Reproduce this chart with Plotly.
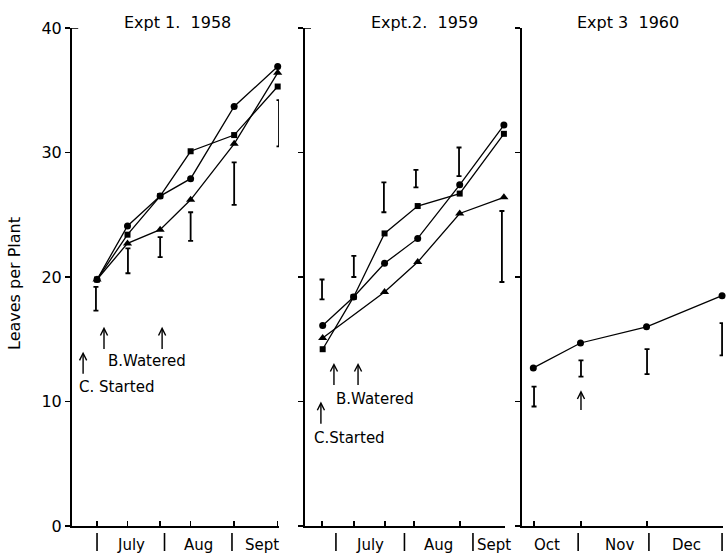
import plotly.graph_objects as go

# ---------------- data (x = days from start of month boundary reference) ----------------
# Expt 1, 1958 (day 0 = 1 July)
x1 = [0, 14, 29, 43, 63, 83]
circle1 = [19.8, 24.1, 26.5, 27.9, 33.7, 36.9]
square1 = [19.8, 23.4, 26.5, 30.1, 31.4, 35.3]
tri1 = [19.8, 22.7, 23.8, 26.2, 30.7, 36.4]
err1_x = [-0.5, 14.2, 29, 43, 63, 83.6]
err1_lo = [17.3, 20.3, 21.6, 22.9, 25.8, 30.5]
err1_hi = [19.2, 22.3, 23.2, 25.2, 29.2, 34.2]
months1 = ["July", "Aug", "Sept"]
months1_x = [15.5, 46.5, 76]
bounds1 = [0, 31, 62]

# Expt 2, 1959 (day 0 = 1 July)
x2 = [-6, 8, 22, 37, 56, 76]
circle2 = [16.1, 18.4, 21.1, 23.1, 27.4, 32.2]
square2 = [14.2, 18.4, 23.5, 25.7, 26.7, 31.5]
tri2_x = [-6, 22, 37, 56, 76]
tri2 = [15.1, 18.8, 21.2, 25.1, 26.4]
err2_x = [-6.3, 8.1, 21.7, 36.2, 55.7, 75.1]
err2_lo = [18.2, 20.0, 25.2, 27.2, 28.1, 19.6]
err2_hi = [19.8, 21.7, 27.6, 28.6, 30.4, 25.3]
ticks2 = [-6.3, 8.1, 22.2, 35.3, 56.1, 76.5]
months2 = ["July", "Aug", "Sept"]
months2_x = [15.5, 46.5, 71.5]
bounds2 = [0, 31, 62]

# Expt 3, 1960 (day 0 = 1 October)
x3 = [12, 32, 60, 92]
circle3 = [12.7, 14.7, 16.0, 18.5]
err3_x = [12.3, 32.2, 60.2, 92]
err3_lo = [9.6, 12.0, 12.2, 13.7]
err3_hi = [11.2, 13.3, 14.2, 16.3]
ticks3 = [12.3, 32.2, 60.2, 92.4]
months3 = ["Oct", "Nov", "Dec"]
months3_x = [17.8, 48.7, 77.1]
bounds3 = [31, 61, 92]

titles = ["Expt 1.  1958", "Expt.2.  1959", "Expt 3  1960"]
yticks = [0, 10, 20, 30, 40]

# arrows: (x, tip y, tail y)
c_started1 = (-6.4, 14.0, 12.1)
b_watered1 = [(3.2, 16.0, 14.1), (29.9, 16.0, 14.1)]
c_started2 = (-6.8, 10.0, 8.1)
b_watered2 = [(-0.9, 13.1, 11.2), (10.0, 13.1, 11.2)]
arrow3 = (32.2, 10.9, 9.2)

# ---------------- layout geometry ----------------
W, H = 726, 553
ML, MR, MT, MB = 72, 3, 28, 27
PW = W - ML - MR
PH = H - MT - MB


def dom(a, b):
    return [(a - ML) / PW, (b - ML) / PW]


def py(p):  # pixel y -> paper y
    return (H - MB - p) / PH


FONT = "DejaVu Sans"
LINE_W = 1.3

fig = go.Figure()


def add_series(x, y, symbol, size, xa, ya):
    fig.add_trace(go.Scatter(
        x=x, y=y, mode="lines+markers", xaxis=xa, yaxis=ya,
        line=dict(color="black", width=LINE_W),
        marker=dict(symbol=symbol, size=size, color="black"),
        cliponaxis=False, showlegend=False, hoverinfo="skip"))


def add_err(x, lo, hi, xa, ya):
    mid = [(a + b) / 2 for a, b in zip(lo, hi)]
    half = [(b - a) / 2 for a, b in zip(lo, hi)]
    fig.add_trace(go.Scatter(
        x=x, y=mid, mode="markers", xaxis=xa, yaxis=ya,
        marker=dict(size=1, color="rgba(0,0,0,0)"),
        error_y=dict(type="data", array=half, visible=True,
                     color="black", thickness=1.8, width=2.5),
        cliponaxis=False, showlegend=False, hoverinfo="skip"))


# panel 1
add_series(x1, circle1, "circle", 7, "x", "y")
add_series(x1, square1, "square", 6, "x", "y")
add_series(x1, tri1, "triangle-up", 8, "x", "y")
add_err(err1_x, err1_lo, err1_hi, "x", "y")
# panel 2
add_series(x2, circle2, "circle", 7, "x2", "y2")
add_series(x2, square2, "square", 6, "x2", "y2")
add_series(tri2_x, tri2, "triangle-up", 8, "x2", "y2")
add_err(err2_x, err2_lo, err2_hi, "x2", "y2")
# panel 3
add_series(x3, circle3, "circle", 7, "x3", "y3")
add_err(err3_x, err3_lo, err3_hi, "x3", "y3")

xcommon = dict(showgrid=False, zeroline=False, showline=True, linecolor="black",
               linewidth=2, ticks="inside", ticklen=5, tickwidth=1.5,
               tickcolor="black", showticklabels=False, fixedrange=True)
ycommon = dict(showgrid=False, zeroline=False, showline=True, linecolor="black",
               linewidth=2, ticks="outside", ticklen=5, tickwidth=1.5,
               tickcolor="black", range=[0, 40], tickvals=yticks,
               domain=[0, 1], fixedrange=True)

fig.update_layout(
    width=W, height=H,
    margin=dict(l=ML, r=MR, t=MT, b=MB, pad=0),
    paper_bgcolor="white", plot_bgcolor="white",
    font=dict(family=FONT, color="black", size=14),
    xaxis=dict(xcommon, domain=dom(72, 279), range=[-11.5, 83.6], tickvals=x1 + [83.6], anchor="y"),
    xaxis2=dict(xcommon, domain=dom(305, 505), range=[-14, 76.5], tickvals=ticks2, anchor="y2"),
    xaxis3=dict(xcommon, domain=dom(522, 723), range=[7.2, 92.4], tickvals=ticks3, anchor="y3"),
    yaxis=dict(ycommon, anchor="x", showticklabels=True,
               tickfont=dict(family=FONT, size=16)),
    yaxis2=dict(ycommon, anchor="x2", showticklabels=False),
    yaxis3=dict(ycommon, anchor="x3", showticklabels=False),
)

ann = []
shapes = []

# titles
for t, xp in zip(titles, [177, 424, 628]):
    ann.append(dict(text=t, x=(xp - ML) / PW, y=py(22), xref="paper", yref="paper",
                    showarrow=False, font=dict(size=16), xanchor="center", yanchor="middle"))

# y title
ann.append(dict(text="Leaves per Plant", x=(14 - ML) / PW, y=py(284), xref="paper", yref="paper",
                showarrow=False, textangle=-90, font=dict(size=16), xanchor="center", yanchor="middle"))

# top caps of y axes
for xa in ["x", "x2"]:
    shapes.append(dict(type="line", xref=xa + " domain", yref="y", x0=0, x1=0.03, y0=40, y1=40,
                       line=dict(color="black", width=1.6)))

# month labels and separators
for names, xs, bounds, xa in [(months1, months1_x, bounds1, "x"),
                              (months2, months2_x, bounds2, "x2"),
                              (months3, months3_x, bounds3, "x3")]:
    for n, xv in zip(names, xs):
        ann.append(dict(text=n, x=xv, y=py(545), xref=xa, yref="paper", showarrow=False,
                        font=dict(size=15), xanchor="center", yanchor="middle"))
    for b in bounds:
        shapes.append(dict(type="line", xref=xa, yref="paper", x0=b, x1=b,
                           y0=py(533), y1=py(551), line=dict(color="black", width=1.6)))


def arrow(a, xa, ya):
    xv, tip, tail = a
    ann.append(dict(text="", x=xv, y=tip, ax=xv, ay=tail, xref=xa, yref=ya,
                    axref=xa, ayref=ya, showarrow=True, arrowhead=5, arrowsize=1.0,
                    arrowwidth=1.4, arrowcolor="black", standoff=0, startstandoff=0))


arrow(c_started1, "x", "y")
for a in b_watered1:
    arrow(a, "x", "y")
arrow(c_started2, "x2", "y2")
for a in b_watered2:
    arrow(a, "x2", "y2")
arrow(arrow3, "x3", "y3")

ann.append(dict(text="C. Started", x=-9.2, y=11.2, xref="x", yref="y", showarrow=False,
                xanchor="left", yanchor="middle", font=dict(size=15)))
ann.append(dict(text="B.Watered", x=4.1, y=13.25, xref="x", yref="y", showarrow=False,
                xanchor="left", yanchor="middle", font=dict(size=15)))
ann.append(dict(text="C.Started", x=-10.9, y=7.1, xref="x2", yref="y2", showarrow=False,
                xanchor="left", yanchor="middle", font=dict(size=15)))
ann.append(dict(text="B.Watered", x=-0.9, y=10.2, xref="x2", yref="y2", showarrow=False,
                xanchor="left", yanchor="middle", font=dict(size=15)))

fig.update_layout(annotations=ann, shapes=shapes)

fig.write_html("out.html",
               config={"displayModeBar": False, "staticPlot": True},
               post_script="document.body.style.margin='0';document.body.style.overflow='hidden';")
